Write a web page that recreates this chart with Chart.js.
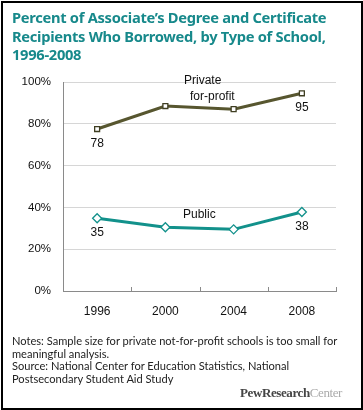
<!DOCTYPE html>
<html>
<head>
<meta charset="utf-8">
<script src="https://cdn.jsdelivr.net/npm/chart.js@4.4.1/dist/chart.umd.min.js"></script>
<style>
	html, body { margin: 0; padding: 0; background: #fff; }
	#wrap { position: relative; width: 363px; height: 410px; overflow: hidden; }
	#frame { position: absolute; left: 1px; top: 1px; width: 358px; height: 405px; border: 2px solid #000; }
	#chart { position: absolute; left: 0; top: 0; }
	.title { position: absolute; left: 12px; top: 8px; width: 345px; font-family: "Noto Sans", sans-serif; font-weight: bold; font-size: 14.7px; line-height: 18.5px; color: #17898b; letter-spacing: -0.3px; }
	.notes { position: absolute; left: 12px; top: 335px; width: 345px; font-family: Lato, sans-serif; font-size: 11.1px; line-height: 12.7px; color: #222; }
	.lbl { position: absolute; font-family: "Liberation Sans", Arial, sans-serif; font-size: 12px; color: #111; line-height: 14px; }
	.logo { position: absolute; right: 21px; top: 385px; font-family: "Liberation Serif", serif; font-size: 13px; color: #444; letter-spacing: -0.4px; }
	.logo span { color: #aaa; font-weight: normal; }
</style>
</head>
<body>
<div id="wrap">
	<canvas id="chart" width="363" height="410"></canvas>
	<div id="frame"></div>
	<div class="title">Percent of Associate’s Degree and Certificate Recipients Who Borrowed, by Type of School, 1996-2008</div>
	<div class="lbl" style="left:184px; top:73px;">Private</div>
	<div class="lbl" style="left:190px; top:89px;">for-profit</div>
	<div class="lbl" style="left:183px; top:207px;">Public</div>
	<div class="notes">Notes: Sample size for private not-for-profit schools is too small for meaningful analysis.<br>Source: National Center for Education Statistics, National Postsecondary Student Aid Study</div>
	<div class="logo"><b>PewResearch</b><span>Center</span></div>
</div>
<script>
const years = ["1996", "2000", "2004", "2008"];
const privateForProfit = [77.5, 88.5, 87, 94.6];
const publicSchools = [34.8, 30.5, 29.5, 37.8];
const privateLabels = ["78", "", "", "95"];
const publicLabels = ["35", "", "", "38"];
const yTicks = [0, 20, 40, 60, 80, 100];

// value labels under the end points
const valueLabels = {
	id: "valueLabels",
	afterDatasetsDraw(chart) {
		const ctx = chart.ctx;
		const sets = [privateLabels, publicLabels];
		ctx.save();
		ctx.font = "12px 'Liberation Sans', Arial, sans-serif";
		ctx.fillStyle = "#111";
		ctx.textAlign = "center";
		ctx.textBaseline = "middle";
		sets.forEach((labels, i) => {
			const meta = chart.getDatasetMeta(i);
			meta.data.forEach((pt, j) => {
				if (labels[j]) ctx.fillText(labels[j], pt.x, pt.y + 14.5);
			});
		});
		ctx.restore();
	},
};

// small inward tick marks on the x axis between categories
const innerTicks = {
	id: "innerTicks",
	afterDraw(chart) {
		const ctx = chart.ctx;
		const x = chart.scales.x;
		const bottom = chart.chartArea.bottom;
		ctx.save();
		ctx.strokeStyle = "#8a8a8a";
		ctx.lineWidth = 1;
		for (let i = 0; i < years.length; i++) {
			const px = Math.round(x.getPixelForValue(i) + (x.getPixelForValue(1) - x.getPixelForValue(0)) / 2) + 0.5;
			ctx.beginPath();
			ctx.moveTo(px, bottom);
			ctx.lineTo(px, bottom - 4);
			ctx.stroke();
		}
		ctx.restore();
	},
};

new Chart(document.getElementById("chart"), {
	type: "line",
	data: {
		labels: years,
		datasets: [
			{
				label: "Private for-profit",
				data: privateForProfit,
				borderColor: "#57562f",
				borderWidth: 3,
				pointStyle: "rect",
				pointRadius: 3.5,
				pointBorderWidth: 1.3,
				pointBackgroundColor: "#fff",
				pointBorderColor: "#3f3e22",
				tension: 0,
			},
			{
				label: "Public",
				data: publicSchools,
				borderColor: "#12918b",
				borderWidth: 3,
				pointStyle: "rectRot",
				pointRadius: 4.5,
				pointBorderWidth: 1.3,
				pointBackgroundColor: "#fff",
				pointBorderColor: "#12918b",
				tension: 0,
			},
		],
	},
	options: {
		responsive: false,
		animation: false,
		events: [],
		layout: { padding: { top: 82, left: 0, right: 27, bottom: 91 } },
		plugins: {
			legend: { display: false },
			tooltip: { enabled: false },
		},
		scales: {
			x: {
				offset: true,
				grid: { display: false, drawTicks: false },
				border: { display: true, color: "#8a8a8a", width: 1 },
				ticks: {
					padding: 13,
					color: "#111",
					font: { family: "'Liberation Sans', Arial, sans-serif", size: 12 },
				},
				afterFit(scale) { scale.height = 28; },
			},
			y: {
				min: 0,
				max: 100,
				afterBuildTicks(scale) { scale.ticks = yTicks.map(v => ({ value: v })); },
				grid: { color: "#d6d6d6", lineWidth: 1, drawTicks: false },
				border: { display: true, color: "#8a8a8a", width: 1 },
				ticks: {
					padding: 12,
					color: "#111",
					font: { family: "'Liberation Sans', Arial, sans-serif", size: 11.5 },
					callback: v => v + "%",
				},
				afterFit(scale) { scale.width = 63; },
			},
		},
	},
	plugins: [valueLabels, innerTicks],
});
</script>
</body>
</html>
